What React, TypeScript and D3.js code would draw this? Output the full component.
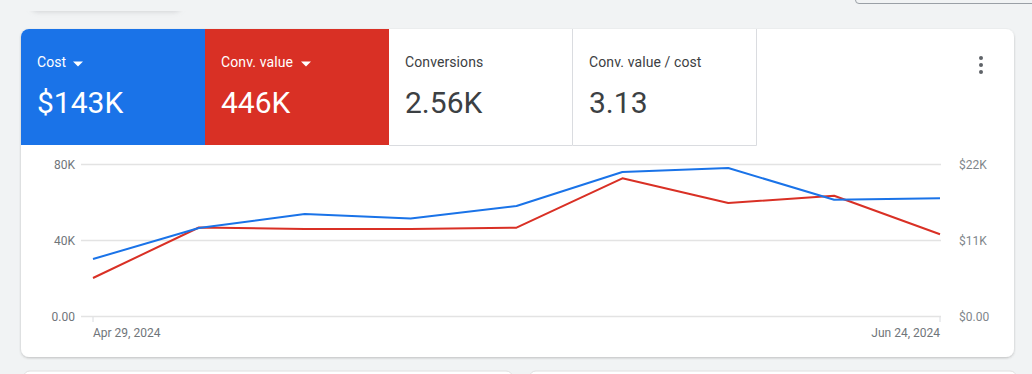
import React from 'react';
import * as d3 from 'd3';

// weekly points, Apr 29 -> Jun 24, 2024
const weeks = ['2024-04-29', '2024-05-06', '2024-05-13', '2024-05-20', '2024-05-27', '2024-06-03', '2024-06-10', '2024-06-17', '2024-06-24'];
const costValues = [8320, 12810, 14840, 14180, 15990, 20910, 21490, 16900, 17110];
const convValues = [20260, 46840, 46050, 46050, 46740, 72740, 59740, 63580, 43260];
const leftTicks = [0, 40000, 80000];
const rightTicks = [0, 11000, 22000];
const leftTickLabels = ['0.00', '40K', '80K'];
const rightTickLabels = ['$0.00', '$11K', '$22K'];

interface Tile {
  label: string,
  value: string,
  bg: string,
  dropdown: boolean
}

const tiles: Tile[] = [
  { label: 'Cost', value: '$143K', bg: '#1a73e8', dropdown: true },
  { label: 'Conv. value', value: '446K', bg: '#d93025', dropdown: true },
  { label: 'Conversions', value: '2.56K', bg: '#ffffff', dropdown: false },
  { label: 'Conv. value / cost', value: '3.13', bg: '#ffffff', dropdown: false },
];

const W = 1032;
const H = 374;
const font = 'Roboto, "Noto Sans", sans-serif';

const App: React.FC = () => {
  const parse = d3.timeParse('%Y-%m-%d');
  const dates = weeks.map((d) => parse(d) as Date);

  const x = d3.scaleTime().domain([dates[0], dates[dates.length - 1]]).range([93, 940]);
  const yLeft = d3.scaleLinear().domain([0, 80000]).range([316.5, 164.5]);
  const yRight = d3.scaleLinear().domain([0, 22000]).range([316.5, 164.5]);

  const costLine = d3.line<number>().x((_, i) => x(dates[i])).y((d) => yRight(d));
  const convLine = d3.line<number>().x((_, i) => x(dates[i])).y((d) => yLeft(d));
  const fmt = d3.timeFormat('%b %-d, %Y');

  const tileX = d3.scaleBand<number>().domain(tiles.map((_, i) => i)).range([21, 757]);

  return (
    <svg width={W} height={H} style={{ position: 'absolute', left: 0, top: 0 }} fontFamily={font}>
      <defs>
        <filter id="shadow" x="-5%" y="-10%" width="110%" height="125%">
          <feDropShadow dx="0" dy="1" stdDeviation="1.2" floodColor="#3c4043" floodOpacity="0.3" />
        </filter>
        <filter id="blur" x="-20%" y="-100%" width="140%" height="300%">
          <feGaussianBlur stdDeviation="2.5" />
        </filter>
        <clipPath id="card">
          <rect x={21} y={29} width={993} height={328} rx={8} />
        </clipPath>
      </defs>
      <rect width={W} height={H} fill="#f1f3f4" />

      {/* bits of neighbouring elements */}
      <rect x={30} y={-10} width={152} height={22} rx={8} fill="#b8babd" filter="url(#blur)" opacity={0.55} />
      <rect x={18} y={-20} width={176} height={31} fill="#f1f3f4" />
      <path d="M855.5,-2 V0 Q855.5,3.5 859,3.5 H1040" fill="none" stroke="#9aa0a6" strokeWidth={1} />
      <rect x={24} y={371} width={488} height={10} rx={6} fill="#ffffff" stroke="#e0e0e0" />
      <rect x={530} y={371} width={486} height={10} rx={6} fill="#ffffff" stroke="#e0e0e0" />

      <rect x={21} y={29} width={993} height={328} rx={8} fill="#ffffff" filter="url(#shadow)" />

      <g clipPath="url(#card)">
        {tiles.map((t, i) => {
          const tx = tileX(i) as number;
          const bw = tileX.bandwidth();
          const white = t.bg === '#ffffff';
          const fg = white ? '#3c4043' : '#ffffff';
          return (
            <g key={t.label}>
              <rect x={tx} y={29} width={bw} height={116} fill={t.bg} />
              {white && (
                <path d={`M${tx + bw - 0.5},29 V145.5 H${tx}`} fill="none" stroke="#dadce0" strokeWidth={1} />
              )}
              <text x={tx + 16} y={67} fontSize={14} fill={fg} letterSpacing={0.1}>{t.label}</text>
              {t.dropdown && (
                <path
                  d={`M${tx + 16 + (i === 0 ? 36 : 80)},61.5 l10,0 l-5,5 z`}
                  fill="#ffffff"
                />
              )}
              <text x={tx + 16} y={112.5} fontSize={30} fill={fg}>{t.value}</text>
            </g>
          );
        })}
      </g>

      {/* kebab menu */}
      {[58, 65, 72].map((cy) => (
        <circle key={cy} cx={981} cy={cy} r={2} fill="#5f6368" />
      ))}

      {/* gridlines */}
      {leftTicks.map((t) => (
        <line key={t} x1={81} x2={941} y1={yLeft(t)} y2={yLeft(t)} stroke="#e3e3e3" strokeWidth={1.5} />
      ))}
      {leftTicks.map((t, i) => (
        <text key={t} x={75} y={yLeft(t) + 4} textAnchor="end" fontSize={12} fill="#70757a">{leftTickLabels[i]}</text>
      ))}
      {rightTicks.map((t, i) => (
        <text key={t} x={959} y={yRight(t) + 4} fontSize={12} fill="#80868b">{rightTickLabels[i]}</text>
      ))}

      {/* x axis end ticks and labels */}
      {[dates[0], dates[dates.length - 1]].map((d, i) => (
        <g key={i}>
          <line x1={x(d)} x2={x(d)} y1={317} y2={322} stroke="#dadce0" strokeWidth={1} />
          <text x={x(d)} y={337} textAnchor={i === 0 ? 'start' : 'end'} fontSize={12} fill="#70757a">{fmt(d)}</text>
        </g>
      ))}

      <path d={convLine(convValues) || ''} fill="none" stroke="#d93025" strokeWidth={2} strokeLinejoin="round" />
      <path d={costLine(costValues) || ''} fill="none" stroke="#1a73e8" strokeWidth={2} strokeLinejoin="round" />
    </svg>
  );
};

export default App;
